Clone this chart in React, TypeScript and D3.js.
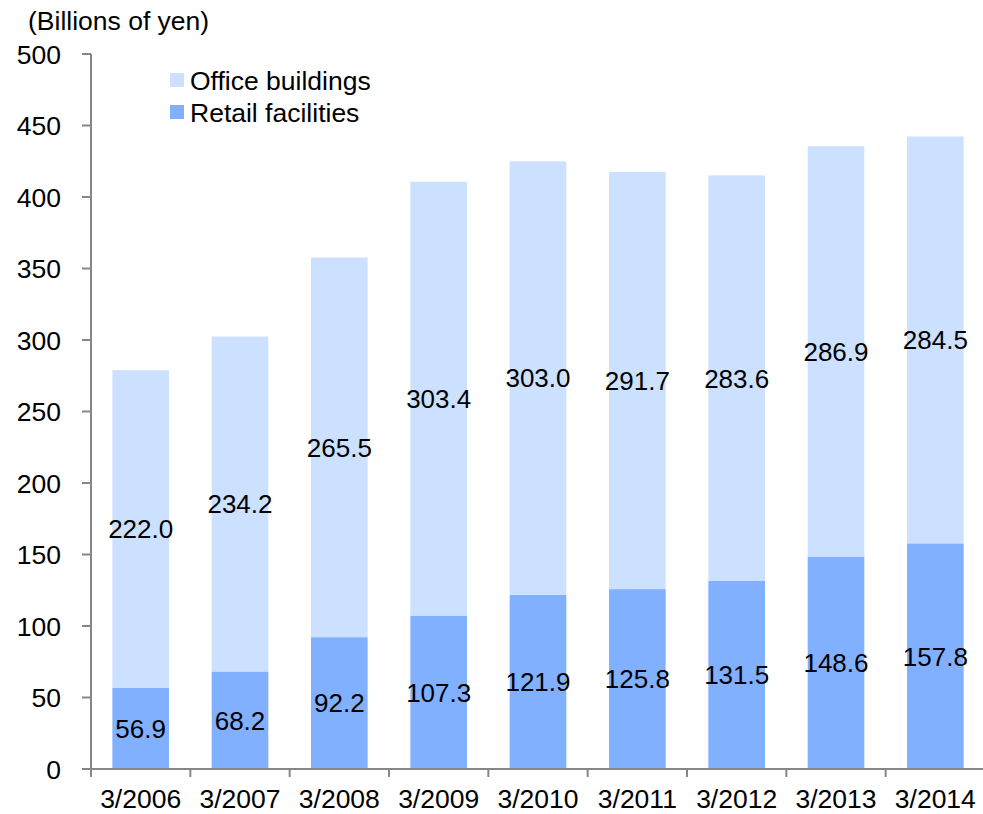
import React from "react";
import * as d3 from "d3";

const categories = ["3/2006", "3/2007", "3/2008", "3/2009", "3/2010", "3/2011", "3/2012", "3/2013", "3/2014"];
const retail = [56.9, 68.2, 92.2, 107.3, 121.9, 125.8, 131.5, 148.6, 157.8];
const office = [222.0, 234.2, 265.5, 303.4, 303.0, 291.7, 283.6, 286.9, 284.5];
const yTicks = [0, 50, 100, 150, 200, 250, 300, 350, 400, 450, 500];
const seriesNames = ["Office buildings", "Retail facilities"];

const W = 983;
const H = 814;
const FONT = "'Liberation Sans', Arial, sans-serif";
const OFFICE_COLOR = "#cce0ff";
const RETAIL_COLOR = "#80b0ff";
const AXIS_COLOR = "#868686";

export default function App() {
  const x = d3.scaleBand<string>().domain(categories).range([91, 985]).paddingInner(0.43).paddingOuter(0.215);
  const xb = d3.scaleBand<string>().domain(categories).range([91, 985]);
  const y = d3.scaleLinear().domain([0, 500]).range([769, 54]);
  const fmt = d3.format(".1f");

  return (
    <svg width={W} height={H} style={{ position: "absolute", left: 0, top: 0, background: "#fff" }} fontFamily={FONT}>
      {/* bars */}
      {categories.map((c, i) => {
        const r = retail[i];
        const o = office[i];
        return (
          <g key={c}>
            <rect x={x(c)} width={x.bandwidth()} y={y(r)} height={y(0) - y(r)} fill={RETAIL_COLOR} />
            <rect x={x(c)} width={x.bandwidth()} y={y(r + o)} height={y(r) - y(r + o)} fill={OFFICE_COLOR} />
            <text x={x(c)! + x.bandwidth() / 2} y={y(r / 2)} dy="0.36em" textAnchor="middle" fontSize={26} fill="#000">{fmt(r)}</text>
            <text x={x(c)! + x.bandwidth() / 2} y={y(r + o / 2)} dy="0.36em" textAnchor="middle" fontSize={26} fill="#000">{fmt(o)}</text>
          </g>
        );
      })}

      {/* y axis */}
      <line x1={91} x2={91} y1={y(500)} y2={y(0)} stroke={AXIS_COLOR} strokeWidth={2} />
      {yTicks.map((t) => (
        <g key={t}>
          <line x1={82} x2={91} y1={y(t)} y2={y(t)} stroke={AXIS_COLOR} strokeWidth={2} />
          <text x={61} y={y(t)} dy="0.36em" textAnchor="end" fontSize={26.5} fill="#000">{t}</text>
        </g>
      ))}

      {/* x axis */}
      <line x1={90} x2={985} y1={y(0)} y2={y(0)} stroke={AXIS_COLOR} strokeWidth={2} />
      {categories.map((c) => (
        <line key={"t" + c} x1={xb(c)} x2={xb(c)} y1={y(0)} y2={y(0) + 8} stroke={AXIS_COLOR} strokeWidth={2} />
      ))}
      {categories.map((c) => (
        <text key={"l" + c} x={xb(c)! + xb.bandwidth() / 2} y={808} textAnchor="middle" fontSize={26.5} fill="#000">{c}</text>
      ))}

      {/* unit label */}
      <text x={28} y={30} fontSize={26.5} fill="#000">(Billions of yen)</text>

      {/* legend */}
      {[OFFICE_COLOR, RETAIL_COLOR].map((col, i) => (
        <g key={"lg" + i}>
          <rect x={170} y={73 + i * 32} width={14} height={14} fill={col} />
          <text x={190} y={80 + i * 32} dy="0.36em" fontSize={26.5} fill="#000">{seriesNames[i]}</text>
        </g>
      ))}
    </svg>
  );
}
